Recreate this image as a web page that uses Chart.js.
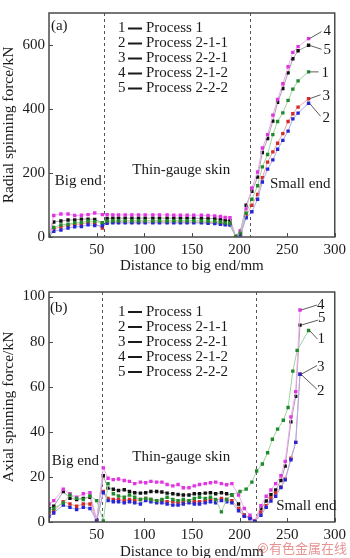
<!DOCTYPE html>
<html>
<head>
<meta charset="utf-8">
<script src="https://cdn.jsdelivr.net/npm/chart.js@4"></script>
<style>
html, body { margin: 0; padding: 0; background: #fff; }
#wrap { position: relative; width: 350px; height: 558px; }
canvas { position: absolute; left: 0; }
</style>
</head>
<body>
<div id="wrap">
  <canvas id="chartA" width="350" height="279" style="top:0"></canvas>
  <canvas id="chartB" width="350" height="279" style="top:279px"></canvas>
</div>
<script>
// ---- data ----
var processNames = ['Process 1', 'Process 2-1-1', 'Process 2-2-1', 'Process 2-1-2', 'Process 2-2-2'];
var processNums = ['1', '2', '3', '4', '5'];
var xTicks = [50, 100, 150, 200, 250, 300];
var aTicks = [0, 200, 400, 600];
var bTicks = [0, 20, 40, 60, 80, 100];

// (a) radial spinning force, kN
var aX = [0, 5, 12.5, 20, 27, 34, 41, 48, 56,
  61, 67, 73, 80, 87, 94, 101, 109, 116, 124, 131, 138, 145, 152, 160, 167, 174, 180, 185, 190,
  196, 201, 207, 213, 219, 224, 229.5, 235, 240, 245.5, 251, 256, 261.5, 272.5];
var aP1 = [0, 30, 38, 40, 44, 45, 50, 48, 45,
  50, 51, 51, 51, 51, 51, 51, 51, 51, 51, 51, 51, 51, 51, 50, 50, 49, 47, 44, 43,
  2, 12, 74, 118, 160, 219, 258, 320, 361, 388, 427, 462, 488, 516];
var aP2 = [0, 18, 22, 28, 32, 33, 38, 36, 35,
  43, 44, 44, 44, 44, 44, 44, 44, 44, 44, 44, 44, 44, 44, 44, 43, 42, 40, 38, 37,
  1, 6, 60, 79, 118, 172, 212, 241, 274, 302, 331, 369, 387, 418];
var aP3 = [0, 25, 32, 36, 40, 40, 45, 42, 28,
  47, 47, 47, 47, 47, 47, 47, 47, 47, 47, 47, 47, 47, 47, 46, 46, 45, 43, 41, 40,
  1, 8, 65, 99, 133, 185, 234, 266, 293, 323, 361, 385, 406, 432];
var aP4 = [0, 67, 72, 72, 67, 68, 70, 75, 70,
  70, 69, 69, 69, 69, 69, 69, 69, 69, 69, 68, 68, 68, 68, 68, 67, 66, 64, 61, 60,
  3, 20, 88, 153, 203, 278, 320, 381, 430, 479, 532, 577, 595, 620];
var aP5 = [0, 47, 50, 53, 53, 56, 56, 55, 44,
  58, 59, 59, 59, 59, 59, 59, 59, 59, 59, 59, 59, 59, 59, 58, 58, 57, 55, 52, 51,
  2, 18, 99, 143, 187, 264, 308, 362, 421, 464, 513, 557, 582, 599];

// (b) axial spinning force, kN
var bX = [0, 5, 15, 22, 29, 36, 43, 50, 57,
  62, 67.5, 73, 79, 84.5, 90, 96, 101.5, 107, 113, 118.5, 124, 130, 135.5, 141, 147, 152.5, 158, 164, 169.5, 175, 181, 186.5, 192,
  199, 205, 211, 216, 222.5, 228, 233, 238, 243.5, 248, 254, 259, 263.5];
var bX1 = [0, 5, 15, 22, 29, 36, 43, 50, 57,
  62, 67.5, 73, 79, 84.5, 90, 96, 101.5, 107, 113, 118.5, 124, 130, 135.5, 141, 147, 152.5, 158, 164, 169.5, 175, 181, 186.5, 192,
  200.5, 207, 213, 218, 224, 229.5, 234.5, 240, 246, 251, 256, 260.5, 272.5];
var bP1 = [5, 6, 8.5, 12, 10.5, 10, 11.5, 9.5, 0.5,
  17, 12.5, 11.5, 11, 12, 11, 10, 10.5, 10, 9.5, 10, 11, 10, 9.5, 10, 9.5, 10.5, 11, 10.5, 11, 10, 4.5, 10, 12,
  13.5, 14.6, 17.7, 22.6, 25.7, 30.7, 36.7, 41.2, 45.1, 50.8, 66.9, 76.1, 84.9];
var bP2 = [2.5, 4, 7.5, 6.5, 5.5, 6.5, 6, 0.5, 13,
  9.5, 9, 9, 8.5, 9, 8.5, 8, 9.5, 9, 8.5, 8.5, 8, 7.5, 7.5, 8, 8.5, 8, 8, 8.5, 9, 8.5, 9.5, 9, 8.5,
  5, 2.5, 1.5, 0.3, 3, 6.5, 9.3, 11.4, 15.3, 18.7, 27.6, 35.3, 65.5];
var bP3 = [4, 5, 9, 8, 7, 8, 8, 0.5, 13.5,
  10.5, 10, 10, 9.5, 10, 9.5, 10, 10.5, 10, 9.5, 9.5, 9, 9, 8.5, 9, 9.5, 9, 9, 9.5, 10, 9.5, 10.5, 10, 9.5,
  6, 3, 1.5, 0.3, 4.4, 7.2, 10.7, 12.8, 15.6, 19.1, 28.3, 35.3, 65.5];
var bP4 = [8, 9.5, 14.5, 12.5, 11, 12.5, 13, 1, 24,
  19.4, 18.8, 19.1, 18.4, 18, 17, 17.7, 17.4, 18, 17.7, 17.7, 16.6, 16, 16.6, 15.2, 15.2, 16, 16.6, 17, 17.4, 17.7, 17, 16.5, 17,
  12, 6, 3, 0.5, 7.2, 11.4, 14.2, 17, 20.5, 26.9, 46.6, 57.8, 94];
var bP5 = [6, 7, 13.5, 10.5, 10, 10.5, 11, 1, 20.5,
  15, 14.5, 14, 14.3, 13.5, 13, 12.8, 13, 13.5, 13.5, 13.3, 12.8, 12.5, 12.2, 12, 12, 12.5, 12.5, 12.8, 13, 12.5, 13, 12.5, 12,
  8, 3, 2, 0.5, 5.8, 9.3, 12.1, 14.2, 18.4, 24.8, 44.4, 55.7, 87.3];

// ---- styles ----
var markColors = ['#1f8a2c', '#2626d6', '#d42a2a', '#e036e0', '#111111'];
var lineColors = ['#9fd29f', '#a9a9ef', '#f0a2a2', '#f2a9f2', '#a3a3a3'];
var serif = '"Liberation Serif", "Times New Roman", serif';
var txt = '#1a1a1a';

var decor = {
  id: 'decor',
  beforeDatasetsDraw: function(chart, args, o) {
    var ctx = chart.ctx, a = chart.chartArea, xs = chart.scales.x;
    ctx.save();
    ctx.strokeStyle = '#555';
    ctx.lineWidth = 1;
    ctx.setLineDash([3, 3]);
    o.dashes.forEach(function(d) {
      var px = Math.round(xs.getPixelForValue(d)) + 0.5;
      ctx.beginPath();
      ctx.moveTo(px, a.top);
      ctx.lineTo(px, a.bottom);
      ctx.stroke();
    });
    ctx.restore();
  },
  afterDraw: function(chart, args, o) {
    var ctx = chart.ctx, a = chart.chartArea;
    var xs = chart.scales.x, ys = chart.scales.y;
    ctx.save();
    // frame
    ctx.strokeStyle = '#4a4a4a';
    ctx.lineWidth = 1.5;
    ctx.strokeRect(a.left, a.top, a.right - a.left, a.bottom - a.top);
    // inward tick marks
    ctx.lineWidth = 1;
    xs.ticks.forEach(function(t) {
      var px = Math.round(xs.getPixelForValue(t.value)) + 0.5;
      ctx.beginPath(); ctx.moveTo(px, a.bottom); ctx.lineTo(px, a.bottom - 4); ctx.stroke();
    });
    ys.ticks.forEach(function(t) {
      var py = Math.round(ys.getPixelForValue(t.value)) + 0.5;
      ctx.beginPath(); ctx.moveTo(a.left, py); ctx.lineTo(a.left + 4, py); ctx.stroke();
    });

    ctx.fillStyle = txt;
    ctx.textBaseline = 'middle';
    ctx.textAlign = 'left';
    ctx.font = '15px ' + serif;
    // region texts
    o.notes.forEach(function(n) {
      ctx.fillText(n.text, xs.getPixelForValue(n.x), ys.getPixelForValue(n.y));
    });
    // legend
    processNames.forEach(function(name, i) {
      var y = a.top + o.legendTop + i * 15;
      var x = a.left + o.legendLeft;
      ctx.fillText(processNums[i], x, y);
      ctx.fillRect(x + 10, y - 1, 14, 2);
      ctx.fillText(name, x + 28, y);
    });
    // end labels with leader lines
    ctx.strokeStyle = '#333';
    ctx.lineWidth = 0.8;
    o.ends.forEach(function(e) {
      var meta = chart.getDatasetMeta(e.i);
      var pt = meta.data[meta.data.length - 1];
      var lx = pt.x + e.lx, ly = pt.y + e.ly;
      ctx.beginPath();
      ctx.moveTo(pt.x + 1, pt.y);
      ctx.lineTo(lx, ly);
      ctx.stroke();
      ctx.fillText(processNums[e.i], lx + e.tx, pt.y + e.ty);
    });
    // watermark
    if (o.mark) {
      ctx.fillStyle = 'rgba(222,110,110,0.75)';
      ctx.strokeStyle = 'rgba(222,110,110,0.75)';
      ctx.lineWidth = 1;
      ctx.beginPath();
      ctx.arc(263, 269, 4.5, 0, Math.PI * 2);
      ctx.stroke();
      ctx.beginPath();
      ctx.arc(263, 269, 2, 0, Math.PI * 2);
      ctx.stroke();
      ctx.font = '13px "Noto Sans CJK SC", sans-serif';
      ctx.fillText('有色金属在线', 269, 269);
    }
    ctx.restore();
  }
};

function makePanel(id, xsets, ysets, yMax, yTicks, yTitle, xPadBottom, xLineH, xHeight, opts) {
  var datasets = ysets.map(function(ys, i) {
    var xs = xsets[i];
    return {
      data: ys.map(function(v, k) { return { x: xs[k], y: v }; }),
      borderColor: lineColors[i],
      borderWidth: 1,
      backgroundColor: markColors[i],
      pointBackgroundColor: markColors[i],
      pointBorderColor: markColors[i],
      pointBorderWidth: 0,
      pointStyle: 'rect',
      pointRadius: 2.4,
      tension: 0
    };
  });
  return new Chart(document.getElementById(id), {
    type: 'line',
    data: { datasets: datasets },
    options: {
      responsive: false,
      animation: false,
      layout: { padding: { top: 1, right: 14, left: 0, bottom: 0 } },
      plugins: { legend: { display: false }, tooltip: { enabled: false }, decor: opts },
      scales: {
        x: {
          type: 'linear', min: 0, max: 300,
          afterBuildTicks: function(s) { s.ticks = [{ value: 0 }].concat(xTicks.map(function(v) { return { value: v }; })); },
          afterFit: function(s) { s.height = xHeight; },
          grid: { display: false, drawTicks: false, tickLength: 0 }, border: { display: false },
          ticks: { padding: 4, color: txt, font: { family: serif, size: 15 },
            callback: function(v) { return v === 0 ? '' : v; } },
          title: { display: true, text: 'Distance to big end/mm', color: txt,
            font: { family: serif, size: 15, lineHeight: xLineH }, padding: { top: 0, bottom: xPadBottom } }
        },
        y: {
          type: 'linear', min: 0, max: yMax,
          afterBuildTicks: function(s) { s.ticks = yTicks.map(function(v) { return { value: v }; }); },
          afterFit: function(s) { s.width = 49; },
          grid: { display: false, drawTicks: false, tickLength: 0 }, border: { display: false },
          ticks: { padding: 4, color: txt, font: { family: serif, size: 15 } },
          title: { display: true, text: yTitle, color: txt,
            font: { family: serif, size: 15.5, lineHeight: 1.2 }, padding: { top: 0, bottom: 0 } }
        }
      }
    },
    plugins: [decor]
  });
}

makePanel('chartA', [aX, aX, aX, aX, aX], [aP1, aP2, aP3, aP4, aP5], 700, aTicks,
  'Radial spinning force/kN', 4, 1.2, 42, {
    dashes: [58, 211],
    legendLeft: 69, legendTop: 15.5,
    notes: [
      { text: '(a)', x: 2, y: 659 },
      { text: 'Big end', x: 6, y: 176 },
      { text: 'Thin-gauge skin', x: 87.5, y: 208 },
      { text: 'Small end', x: 232, y: 165 }
    ],
    ends: [
      { i: 3, lx: 13, ly: -7, tx: 2, ty: -8 },
      { i: 4, lx: 13, ly: 4, tx: 2, ty: 5 },
      { i: 0, lx: 10, ly: 0, tx: 3, ty: 1 },
      { i: 2, lx: 12, ly: -4, tx: 2, ty: -3 },
      { i: 1, lx: 12, ly: 13, tx: 2, ty: 15 }
    ]
  });

makePanel('chartB', [bX1, bX, bX, bX, bX], [bP1, bP2, bP3, bP4, bP5], 102, bTicks,
  'Axial spinning force/kN', 0, 0.8, 36, {
    dashes: [56, 217],
    legendLeft: 69, legendTop: 20,
    notes: [
      { text: '(b)', x: 1, y: 95 },
      { text: 'Big end', x: 3, y: 27 },
      { text: 'Thin-gauge skin', x: 87.5, y: 28.7 },
      { text: 'Small end', x: 238.5, y: 6.9 }
    ],
    ends: [
      { i: 3, lx: 17, ly: -5, tx: 0, ty: -5.3 },
      { i: 4, lx: 18, ly: -5, tx: 0, ty: -6.7 },
      { i: 0, lx: 9, ly: 8.6, tx: 0, ty: 8.6 },
      { i: 2, lx: 17, ly: -8.7, tx: 0, ty: -7.4 },
      { i: 1, lx: 17, ly: 15, tx: 0, ty: 16.6 }
    ],
    mark: true
  });
</script>
</body>
</html>
